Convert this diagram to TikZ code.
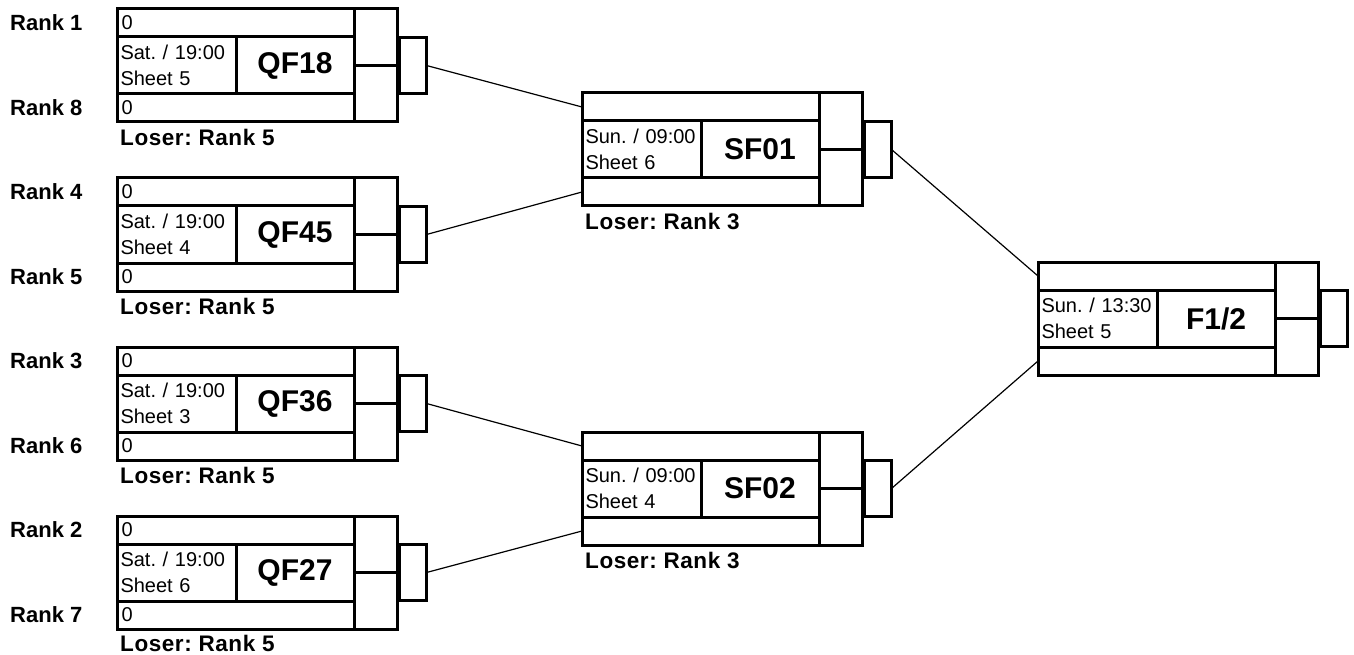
\documentclass[tikz,border=0pt]{standalone}
\usepackage{fontspec}
\setmainfont{Liberation Sans}
\frenchspacing
\newfontfamily\loserfont[LetterSpace=2.5,BoldFont={Liberation Sans Bold}]{Liberation Sans}
\tikzset{
  cell/.style={draw, line width=3pt, inner sep=0pt, outer sep=0pt, anchor=north west},
  conn/.style={line width=1.2pt},
  ranklbl/.style={anchor=west, inner sep=0pt, font=\fontsize{22}{26}\selectfont\bfseries},
  loserlbl/.style={anchor=west, inner sep=0pt, font=\loserfont\fontsize{22.5}{26}\selectfont\bfseries},
  rowtxt/.style={font=\fontsize{20}{26}\selectfont, align=left},
  titletxt/.style={font=\fontsize{30}{36}\selectfont\bfseries},
}
% #1 name, #2 x, #3 y, #4 top text, #5 bottom text, #6 date, #7 sheet, #8 title
\newcommand\gamebox[8]{%
  \begin{scope}[shift={(#2,#3)}]
    \node[cell, rowtxt, minimum width=237pt, minimum height=28pt, text width=228pt] (#1-top) at (0,0) {#4};
    \node[cell, rowtxt, minimum width=119pt, minimum height=57pt, text width=112pt] (#1-date) at (0,28) {#6\\#7};
    \node[cell, titletxt, minimum width=118pt, minimum height=57pt] (#1-title) at (119,28) {#8};
    \node[cell, rowtxt, minimum width=237pt, minimum height=28pt, text width=228pt] (#1-bot) at (0,85) {#5};
    \node[cell, minimum width=43pt, minimum height=56.5pt] (#1-s1) at (237,0) {};
    \node[cell, minimum width=43pt, minimum height=56.5pt] (#1-s2) at (237,56.5) {};
    \node[cell, minimum width=27pt, minimum height=56pt] (#1-out) at (282.5,28.5) {};
  \end{scope}}
\begin{document}
\begin{tikzpicture}[x=1pt, y=-1pt]
  \fill[white] (0,0) rectangle (1354,655);
  \useasboundingbox (0,0) rectangle (1354,655);

  \gamebox{qf18}{117}{9}{0}{0}{Sat. / 19:00}{Sheet 5}{QF18}
  \gamebox{qf45}{117}{178}{0}{0}{Sat. / 19:00}{Sheet 4}{QF45}
  \gamebox{qf36}{117}{347}{0}{0}{Sat. / 19:00}{Sheet 3}{QF36}
  \gamebox{qf27}{117}{516}{0}{0}{Sat. / 19:00}{Sheet 6}{QF27}
  \gamebox{sf01}{582}{93}{}{}{Sun. / 09:00}{Sheet 6}{SF01}
  \gamebox{sf02}{582}{432}{}{}{Sun. / 09:00}{Sheet 4}{SF02}
  \gamebox{fin}{1038}{262}{}{}{Sun. / 13:30}{Sheet 5}{F1/2}

  % rank labels
  \node[ranklbl] (r1) at (10,23) {Rank 1};
  \node[ranklbl] (r8) at (10,108) {Rank 8};
  \node[ranklbl] (r4) at (10,192) {Rank 4};
  \node[ranklbl] (r5) at (10,277) {Rank 5};
  \node[ranklbl] (r3) at (10,361) {Rank 3};
  \node[ranklbl] (r6) at (10,446) {Rank 6};
  \node[ranklbl] (r2) at (10,530) {Rank 2};
  \node[ranklbl] (r7) at (10,615) {Rank 7};

  % loser labels
  \node[loserlbl] (l18) at (120,137.5) {Loser: Rank 5};
  \node[loserlbl] (l45) at (120,306.5) {Loser: Rank 5};
  \node[loserlbl] (l36) at (120,475.5) {Loser: Rank 5};
  \node[loserlbl] (l27) at (120,643.5) {Loser: Rank 5};
  \node[loserlbl] (ls1) at (585,221.5) {Loser: Rank 3};
  \node[loserlbl] (ls2) at (585,560.5) {Loser: Rank 3};

  % connectors
  \draw[conn] (qf18-out.east) -- (sf01-top.west);
  \draw[conn] (qf45-out.east) -- (sf01-bot.west);
  \draw[conn] (qf36-out.east) -- (sf02-top.west);
  \draw[conn] (qf27-out.east) -- (sf02-bot.west);
  \draw[conn] (sf01-out.east) -- (fin-top.west);
  \draw[conn] (sf02-out.east) -- (fin-bot.west);
\end{tikzpicture}
\end{document}
